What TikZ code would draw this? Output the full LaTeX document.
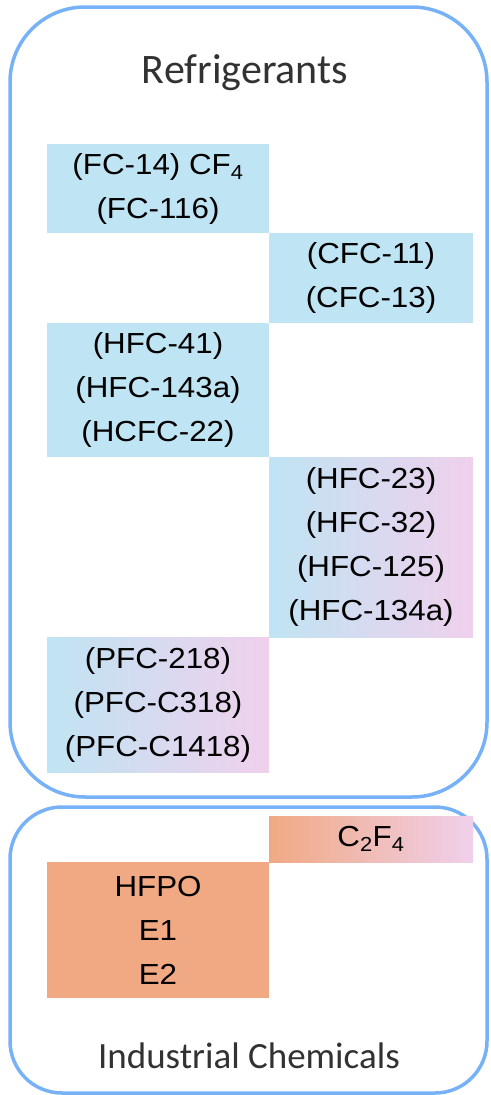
\documentclass[tikz,border=0pt]{standalone}
\usepackage{fontspec}
\setmainfont{Liberation Sans}[FakeStretch=1.08]
\newfontfamily\headfont{Carlito}
\usetikzlibrary{positioning}

\definecolor{frameblue}{RGB}{119,177,247}
\definecolor{iceblue}{RGB}{191,228,243}
\definecolor{lilac}{RGB}{240,208,236}
\definecolor{salmon}{RGB}{240,169,131}
\definecolor{headgray}{RGB}{50,50,50}

\begin{document}
\begin{tikzpicture}[x=1pt,y=-1pt,
    frame/.style={draw=frameblue, line width=3.5pt},
    chem/.style={inner sep=0pt, outer sep=0pt, align=center, font=\fontsize{29}{44}\selectfont},
    widebox/.style={chem, minimum width=222pt},
    slimbox/.style={chem, minimum width=204pt},
    head/.style={text=headgray, anchor=base}]
    \useasboundingbox (0,0) rectangle (490,1095);

    % Drawing frame of refrigerants
    \draw [frame, rounded corners=75pt] (10,7) rectangle (487,797);%
    \node [head, font=\headfont\fontsize{42}{50}\selectfont] (refr) at (245,83) {Refrigerants};%

    % Staircase of refrigerant groups
    \node [widebox, fill=iceblue, minimum height=89pt, anchor=north west] (fc) at (47,144) {(FC-14) CF\textsubscript{4}\\(FC-116)};%
    \node [slimbox, fill=iceblue, minimum height=90pt, anchor=north west] (cfc) at (fc.south east) {(CFC-11)\\(CFC-13)};%
    \node [widebox, fill=iceblue, minimum height=134pt, anchor=north west] (hcfc) at (fc.west |- cfc.south) {(HFC-41)\\(HFC-143a)\\(HCFC-22)};%
    \node [slimbox, left color=iceblue, right color=lilac, minimum height=180pt, anchor=north west] (hfc) at (hcfc.south east) {(HFC-23)\\(HFC-32)\\(HFC-125)\\(HFC-134a)};%
    \node [widebox, left color=iceblue, right color=lilac, minimum height=135pt, anchor=north west] (pfc) at (hcfc.west |- hfc.south) {(PFC-218)\\(PFC-C318)\\(PFC-C1418)};%

    % Drawing frame of industrial chemicals
    \draw [frame, rounded corners=52pt] (10,807) rectangle (487,1093);%
    \node [slimbox, left color=salmon, right color=lilac, minimum height=46pt, anchor=north west] (tfe) at (269,816) {C\textsubscript{2}F\textsubscript{4}};%
    \node [widebox, fill=salmon, minimum height=136pt, anchor=north west] (hfpo) at (47,862) {HFPO\\E1\\E2};%
    \node [head, font=\headfont\fontsize{37}{44}\selectfont] (indu) at (249,1068) {Industrial Chemicals};%
\end{tikzpicture}
\end{document}
